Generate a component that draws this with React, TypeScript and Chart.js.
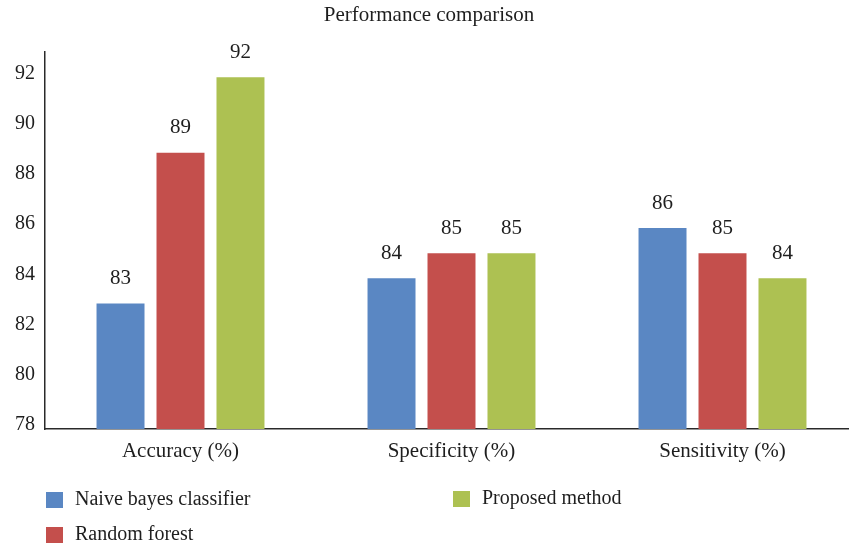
import React, { useEffect, useRef } from "react";
import { Chart, registerables } from "chart.js";

Chart.register(...registerables);

const categories = ["Accuracy (%)", "Specificity (%)", "Sensitivity (%)"];
const seriesNames = ["Naive bayes classifier", "Random forest", "Proposed method"];
const naiveBayes = [83, 84, 86];
const randomForest = [89, 85, 85];
const proposed = [92, 85, 84];
const seriesColors = ["#5A87C3", "#C44F4C", "#ADC152"];
const yTicks = [78, 80, 82, 84, 86, 88, 90, 92];
const titleText = "Performance comparison";

const FONT = "'Liberation Serif', 'Times New Roman', serif";
const TEXT = "#1e1e1e";

export default function App() {
  const ref = useRef<HTMLCanvasElement | null>(null);

  useEffect(() => {
    if (!ref.current) return;

    const valueLabels = {
      id: "valueLabels",
      afterDatasetsDraw(chart: any) {
        const ctx = chart.ctx;
        ctx.save();
        ctx.font = `21px ${FONT}`;
        ctx.fillStyle = TEXT;
        ctx.textAlign = "center";
        ctx.textBaseline = "middle";
        chart.data.datasets.forEach((ds: any, i: number) => {
          const meta = chart.getDatasetMeta(i);
          meta.data.forEach((el: any, j: number) => {
            ctx.fillText(String(Math.round(ds.data[j])), el.x, el.y - 25);
          });
        });
        ctx.restore();
      },
    };

    const legendSlots = [
      { x: 46, y: 492 },
      { x: 46, y: 527 },
      { x: 453, y: 491 },
    ];
    const customLegend = {
      id: "customLegend",
      afterDraw(chart: any) {
        const ctx = chart.ctx;
        ctx.save();
        ctx.font = `20px ${FONT}`;
        ctx.textAlign = "left";
        ctx.textBaseline = "middle";
        chart.data.datasets.forEach((ds: any, i: number) => {
          const s = legendSlots[i];
          ctx.fillStyle = ds.backgroundColor;
          ctx.fillRect(s.x, s.y, 17, 16);
          ctx.fillStyle = TEXT;
          ctx.fillText(ds.label, s.x + 29, s.y + 8);
        });
        ctx.restore();
      },
    };

    const chart = new Chart(ref.current, {
      type: "bar",
      data: {
        labels: categories,
        datasets: [naiveBayes, randomForest, proposed].map((d, i) => ({
          label: seriesNames[i],
          data: d,
          backgroundColor: seriesColors[i],
          borderWidth: 0,
          categoryPercentage: 0.664,
          barPercentage: 0.8,
        })),
      },
      plugins: [valueLabels, customLegend],
      options: {
        animation: false,
        responsive: false,
        maintainAspectRatio: false,
        layout: { padding: { left: 0, right: 14, top: 0, bottom: 0 } },
        plugins: {
          legend: { display: false },
          tooltip: { enabled: false },
          title: {
            display: true,
            text: titleText,
            color: TEXT,
            font: { family: FONT, size: 21, weight: "normal" },
            padding: { top: 3, bottom: 24 },
          },
        },
        scales: {
          x: {
            grid: { display: true, drawOnChartArea: false, drawTicks: false },
            border: { display: true, color: "#2a2a2a", width: 1.5 },
            ticks: {
              color: TEXT,
              font: { family: FONT, size: 21 },
              padding: 10,
              maxRotation: 0,
            },
            afterFit(scale: any) {
              scale.height = 117;
            },
          },
          y: {
            min: 78,
            max: 93,
            grid: { display: true, drawOnChartArea: false, drawTicks: false },
            border: { display: true, color: "#2a2a2a", width: 1.5 },
            ticks: {
              stepSize: 2,
              includeBounds: false,
              color: TEXT,
              font: { family: FONT, size: 20 },
              padding: 10,
              labelOffset: -4,
            },
            afterBuildTicks(scale: any) {
              scale.ticks = yTicks.map((v) => ({ value: v }));
            },
            afterFit(scale: any) {
              scale.width = 45;
            },
          },
        },
      },
    });

    return () => chart.destroy();
  }, []);

  return (
    <div
      style={{
        position: "fixed",
        left: 0,
        top: 0,
        width: 849,
        height: 546,
        overflow: "hidden",
        background: "#fff",
      }}
    >
      <canvas ref={ref} width={872} height={546} style={{ display: "block" }} />
    </div>
  );
}
